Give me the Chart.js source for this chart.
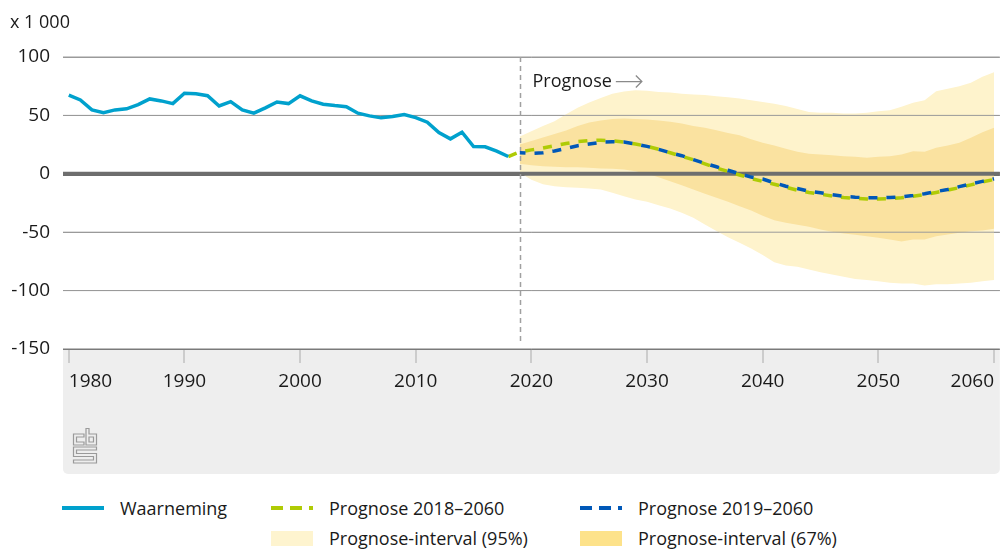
<!DOCTYPE html>
<html lang="nl">
<head>
<meta charset="utf-8">
<title>Migratiesaldo</title>
<script src="https://cdn.jsdelivr.net/npm/chart.js@4/dist/chart.umd.min.js"></script>
<style>
  body { margin: 0; background: #fff; font-family: 'Open Sans', sans-serif; color: #1a1a1a; }
  .wrap { position: relative; width: 1001px; height: 551px; overflow: hidden; }
  .chart-box { position: absolute; left: 0; top: 0; width: 1001px; height: 480px; }
  .unit { position: absolute; left: 10px; top: 9px; font-size: 18px; line-height: 24px; }
  .item { position: absolute; display: flex; align-items: center; height: 24px; font-size: 18px; white-space: nowrap; }
  .item .sw { width: 42px; margin-right: 16px; }
  .line { height: 4px; }
  .box { height: 15px; }
</style>
</head>
<body>
<div class="wrap">
  <div class="chart-box"><canvas id="chart"></canvas></div>
  <div class="unit">x 1 000</div>
  <div class="item" style="left:62px; top:496px"><span class="sw line" style="background:#00a1cd"></span>Waarneming</div>
  <div class="item" style="left:271px; top:496px"><span class="sw line" style="background:repeating-linear-gradient(90deg,#afcb05 0 12px,transparent 12px 19px)"></span>Prognose 2018–2060</div>
  <div class="item" style="left:580px; top:496px"><span class="sw line" style="background:repeating-linear-gradient(90deg,#0058b8 0 12px,transparent 12px 19px)"></span>Prognose 2019–2060</div>
  <div class="item" style="left:271px; top:526px"><span class="sw box" style="background:#fef4cf"></span>Prognose-interval (95%)</div>
  <div class="item" style="left:580px; top:526px"><span class="sw box" style="background:#fde28a"></span>Prognose-interval (67%)</div>
</div>
<script>
const range = (a, b) => Array.from({ length: b - a + 1 }, (_, i) => a + i);

const obsYears = range(1980, 2018);
const prog18Years = range(2018, 2060);
const progYears = range(2019, 2060);
const xTicks = [1980, 1990, 2000, 2010, 2020, 2030, 2040, 2050, 2060];
const yTicks = [-150, -100, -50, 0, 50, 100];

const observed = [67.3, 63.2, 54.7, 52.4, 54.7, 55.6, 59.2, 64.1, 62.4, 60.1,
  69, 68.6, 66.9, 58.1, 61.8, 54.7, 51.9, 56.4, 61.5, 60.1,
  66.8, 62.4, 59.6, 58.4, 57.5, 51.9, 49.6, 47.9, 49, 50.7,
  48.1, 44.2, 35.3, 29.9, 35.6, 23.3, 23.1, 19.4, 14.8];

const prognose2018 = [14.8, 18.8, 20.5, 22, 24, 26, 27.5, 28.5, 28.8, 28.3,
  27.2, 25.5, 23.5, 21, 18, 15, 12, 8.5, 5, 2,
  -1, -4, -6.5, -9, -11.5, -14, -16, -17.5, -19, -20.3,
  -21, -21.5, -21.5, -21.2, -20.5, -19.3, -17.8, -16, -14, -11.8,
  -9.5, -7, -4.8];

const prognose2019 = [18, 17.5, 18, 19.5, 21.7, 24, 25.5, 27, 27.4, 27.2,
  25.5, 23.5, 21, 18, 15.5, 12.2, 9, 6, 3, 0,
  -2.8, -4.5, -7.7, -10.6, -12.6, -14.9, -16.3, -17.8, -19.2, -20,
  -20.5, -20.5, -20.3, -19.7, -18.6, -17.1, -15.2, -13.4, -11, -8.6,
  -6.5, -4.3];

const upper95 = [32, 36.5, 41, 45, 51, 56.5, 61, 65, 68.5, 70.5,
  71.5, 71, 70, 69.5, 68.5, 68, 67.5, 66.5, 65.5, 64.5,
  63, 61.5, 60, 58, 55.5, 53, 52.2, 52.2, 51.6, 51.6,
  52.2, 53.6, 54.5, 57.4, 60.8, 63, 70.7, 72.8, 75, 78,
  83, 87];
const lower95 = [1, -5, -9, -10.6, -11.5, -12, -12.6, -13.4, -16.3, -19.2,
  -22, -24, -27, -29.7, -33.4, -37.7, -43.4, -49, -54.3, -59,
  -64, -69.5, -75.7, -78.5, -79.6, -82, -84.2, -86.2, -88.2, -90,
  -91, -92, -93.3, -94, -94, -95.6, -94.5, -94.5, -94, -93.3,
  -92, -91];
const upper67 = [25, 28, 31, 34, 37, 41, 44, 45.6, 47, 47.3,
  47, 46.5, 45.6, 44.5, 43, 41, 39.4, 37.3, 35, 33,
  29.5, 26.5, 24.2, 21.4, 18.8, 17.1, 16.5, 15.9, 15.1, 14.6,
  13.7, 14.6, 15.1, 16.5, 19.4, 18.8, 22.3, 24.2, 26.5, 30.8,
  35.6, 39.4];
const lower67 = [8.6, 7.4, 6.5, 6, 5.7, 5.7, 5.1, 4.5, 4.3, 3.7,
  2.2, 0, -2.9, -6.3, -9.8, -13.4, -17.1, -20.5, -24, -27.7,
  -31.4, -36, -39.7, -42, -43.7, -45.4, -47.7, -49.7, -51.1, -52.2,
  -53.4, -54.8, -56.3, -58, -56.3, -56.3, -53.4, -52, -50.5, -49.1,
  -48.5, -47.1];

const forecastStart = 2019;

const pts = (years, vals) => years.map((x, i) => ({ x, y: vals[i] }));
const gridColor = v => v === 0 ? '#6e6e6e' : v === -150 ? '#7a7a7a' : '#9a9a9a';
const gridWidth = v => v === 0 ? 4 : 1;
const none = 'rgba(0,0,0,0)';

function drawLogo(ctx, x, y) {
  ctx.save();
  ctx.translate(x, y);
  ctx.strokeStyle = '#9a9a9a';
  ctx.lineWidth = 1.2;
  const shapes = [
    [[11, 6], [0.5, 6], [0.5, 17], [11, 17], [11, 14], [3.5, 14], [3.5, 9], [11, 9]],
    [[13, 0.5], [16, 0.5], [16, 6], [23.5, 6], [23.5, 17], [13, 17]],
    [[16, 9], [20.5, 9], [20.5, 14], [16, 14]],
    [[0.5, 19], [23.5, 19], [23.5, 22], [3.5, 22], [3.5, 25.5], [23.5, 25.5], [23.5, 35],
     [0.5, 35], [0.5, 32], [20.5, 32], [20.5, 28.5], [0.5, 28.5]]
  ];
  shapes.forEach(s => {
    ctx.beginPath();
    s.forEach(([px, py], i) => i ? ctx.lineTo(px, py) : ctx.moveTo(px, py));
    ctx.closePath();
    ctx.stroke();
  });
  ctx.restore();
}

const decor = {
  id: 'decor',
  beforeDraw(chart) {
    const { ctx, chartArea: a } = chart;
    ctx.save();
    ctx.fillStyle = '#eeeeee';
    ctx.beginPath();
    ctx.roundRect(a.left, a.bottom, a.right - a.left, 474 - a.bottom, [0, 0, 5, 5]);
    ctx.fill();
    ctx.restore();
    drawLogo(ctx, 73, 428);
  },
  afterDatasetDraw(chart, args) {
    if (args.index !== 3) return;
    const { ctx, chartArea: a, scales: { x, y } } = chart;
    ctx.save();
    // gridlines back on top of the bands
    yTicks.forEach(v => {
      const py = y.getPixelForValue(v);
      ctx.strokeStyle = gridColor(v);
      ctx.lineWidth = gridWidth(v);
      ctx.beginPath();
      ctx.moveTo(a.left, py);
      ctx.lineTo(a.right, py);
      ctx.stroke();
    });
    const px = Math.round(x.getPixelForValue(forecastStart)) + 0.5;
    ctx.strokeStyle = '#a0a0a0';
    ctx.lineWidth = 1.5;
    ctx.setLineDash([5, 4]);
    ctx.beginPath();
    ctx.moveTo(px, a.top);
    ctx.lineTo(px, a.bottom - 4);
    ctx.stroke();
    ctx.setLineDash([]);
    // "Prognose ->" note
    const ty = y.getPixelForValue(79);
    ctx.fillStyle = '#1a1a1a';
    ctx.font = '18px "Open Sans"';
    ctx.textBaseline = 'middle';
    ctx.fillText('Prognose', px + 12, ty);
    const ax = px + 12 + ctx.measureText('Prognose').width + 4;
    ctx.strokeStyle = '#8a8a8a';
    ctx.lineWidth = 1.3;
    ctx.beginPath();
    ctx.moveTo(ax, ty);
    ctx.lineTo(ax + 26, ty);
    ctx.moveTo(ax + 20, ty - 6);
    ctx.lineTo(ax + 26, ty);
    ctx.lineTo(ax + 20, ty + 6);
    ctx.stroke();
    ctx.restore();
  }
};

new Chart(document.getElementById('chart'), {
  type: 'line',
  data: {
    datasets: [
      { label: 'Waarneming', data: pts(obsYears, observed), borderColor: '#00a1cd', borderWidth: 3.5, order: 1 },
      { label: 'Prognose 2018–2060', data: pts(prog18Years, prognose2018), borderColor: '#afcb05', borderWidth: 3.5, borderDash: [9, 9], order: 2 },
      { label: 'Prognose 2019–2060', data: pts(progYears, prognose2019), borderColor: '#0058b8', borderWidth: 3.5, borderDash: [9, 9], borderDashOffset: 3.3, order: 0 },
      { label: 'Prognose-interval (67%)', data: pts(progYears, upper67), borderColor: none, borderWidth: 0, backgroundColor: '#fae2a0', fill: 4, order: 3 },
      { label: '67% onder', data: pts(progYears, lower67), borderColor: none, borderWidth: 0, fill: false, order: 4 },
      { label: 'Prognose-interval (95%)', data: pts(progYears, upper95), borderColor: none, borderWidth: 0, backgroundColor: '#fef3cc', fill: 6, order: 5 },
      { label: '95% onder', data: pts(progYears, lower95), borderColor: none, borderWidth: 0, fill: false, order: 6 }
    ]
  },
  options: {
    responsive: true,
    maintainAspectRatio: false,
    animation: false,
    elements: { point: { radius: 0 }, line: { tension: 0 } },
    layout: { padding: { top: 57, left: 0, right: 0, bottom: 0 } },
    plugins: { legend: { display: false }, tooltip: { enabled: false } },
    scales: {
      x: {
        type: 'linear',
        min: 1979.5,
        max: 2060.5,
        afterBuildTicks: s => { s.ticks = xTicks.map(v => ({ value: v })); },
        afterFit: s => { s.height = 131; },
        grid: { drawOnChartArea: false, tickLength: 14, color: '#cccccc', lineWidth: 2 },
        border: { display: false },
        ticks: {
          align: 'inner',
          maxRotation: 0,
          padding: 7,
          color: '#1a1a1a',
          font: { family: 'Open Sans', size: 19 },
          callback: v => String(v)
        }
      },
      y: {
        min: -150,
        max: 100,
        afterBuildTicks: s => { s.ticks = yTicks.map(v => ({ value: v })); },
        afterFit: s => { s.width = 63; },
        grid: {
          drawTicks: false,
          color: c => gridColor(c.tick.value),
          lineWidth: c => gridWidth(c.tick.value)
        },
        border: { display: false },
        ticks: {
          padding: 13,
          color: '#1a1a1a',
          font: { family: 'Open Sans', size: 19 }
        }
      }
    }
  },
  plugins: [decor]
});
</script>
</body>
</html>
